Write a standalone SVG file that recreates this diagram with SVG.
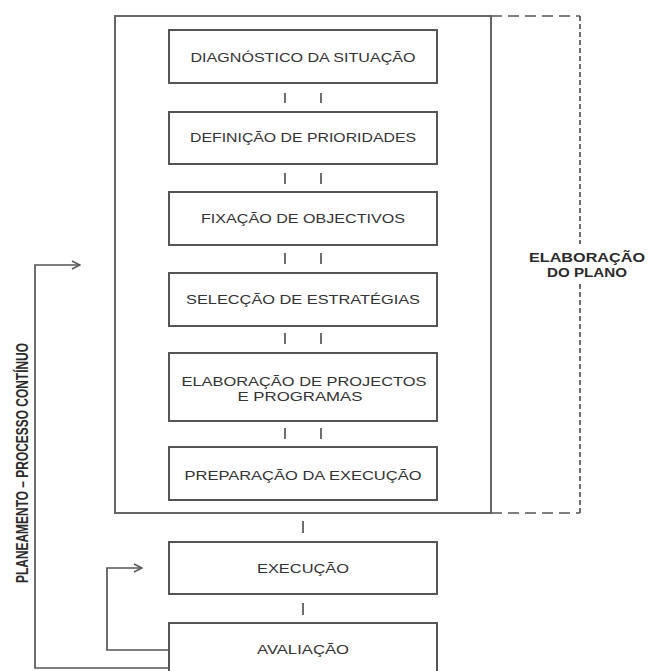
<svg xmlns="http://www.w3.org/2000/svg" width="648" height="671" viewBox="0 0 648 671">
<defs>
<marker id="arr" viewBox="0 0 10 10" refX="9" refY="5" markerWidth="10" markerHeight="10" markerUnits="userSpaceOnUse" orient="auto">
<path d="M1,1 L9,5 L1,9" fill="none" stroke="#555" stroke-width="1.4"/>
</marker>
<style>
.box{fill:#fff;stroke:#555;stroke-width:2}
.lbl{font-family:"Liberation Sans",Arial,sans-serif;font-size:13px;fill:#333;text-anchor:middle}
.bold{font-family:"Liberation Sans",Arial,sans-serif;font-weight:bold;font-size:13px;fill:#2a2a2a;text-anchor:middle}
.tick{stroke:#555;stroke-width:1.7;fill:none}
.conn{stroke:#555;stroke-width:1.7;fill:none}
.dash{stroke:#555;stroke-width:1.7;fill:none}
</style>
</defs>
<rect width="648" height="671" fill="#fff"/>

<g id="plan-frame">
<rect x="115" y="16" width="376" height="497" fill="none" stroke="#666" stroke-width="2"/>
</g>

<g id="elaboracao-plano">
<path class="dash" d="M491,16 H580" stroke-dasharray="11 6"/>
<path class="dash" d="M491,513 H580" stroke-dasharray="11 6"/>
<path class="dash" d="M580,16 V244" stroke-dasharray="5 3"/>
<path class="dash" d="M580,284 V513" stroke-dasharray="5 3"/>
<text class="bold" x="587" y="262" textLength="116" lengthAdjust="spacingAndGlyphs">ELABORAÇÃO</text>
<text class="bold" x="587" y="277" textLength="80" lengthAdjust="spacingAndGlyphs">DO PLANO</text>
</g>

<g id="diagnostico">
<rect class="box" x="169" y="30" width="268" height="53"/>
<text class="lbl" x="303" y="62" textLength="225" lengthAdjust="spacingAndGlyphs">DIAGNÓSTICO DA SITUAÇÃO</text>
</g>
<g id="prioridades">
<rect class="box" x="169" y="112" width="268" height="52"/>
<text class="lbl" x="303" y="142" textLength="226" lengthAdjust="spacingAndGlyphs">DEFINIÇÃO DE PRIORIDADES</text>
</g>
<g id="objectivos">
<rect class="box" x="169" y="192" width="268" height="53"/>
<text class="lbl" x="303" y="223" textLength="204" lengthAdjust="spacingAndGlyphs">FIXAÇÃO DE OBJECTIVOS</text>
</g>
<g id="estrategias">
<rect class="box" x="169" y="273" width="268" height="53"/>
<text class="lbl" x="303" y="304" textLength="234" lengthAdjust="spacingAndGlyphs">SELECÇÃO DE ESTRATÉGIAS</text>
</g>
<g id="projectos">
<rect class="box" x="169" y="353" width="268" height="68"/>
<text class="lbl" x="304" y="386" textLength="245" lengthAdjust="spacingAndGlyphs">ELABORAÇÃO DE PROJECTOS</text>
<text class="lbl" x="300" y="401" textLength="125" lengthAdjust="spacingAndGlyphs">E PROGRAMAS</text>
</g>
<g id="preparacao">
<rect class="box" x="169" y="447" width="268" height="53"/>
<text class="lbl" x="303" y="480" textLength="237" lengthAdjust="spacingAndGlyphs">PREPARAÇÃO DA EXECUÇÃO</text>
</g>
<g id="execucao">
<rect class="box" x="169" y="542" width="268" height="52"/>
<text class="lbl" x="303" y="573" textLength="92" lengthAdjust="spacingAndGlyphs">EXECUÇÃO</text>
</g>
<g id="avaliacao">
<rect class="box" x="169" y="623" width="268" height="52"/>
<text class="lbl" x="303" y="654" textLength="92" lengthAdjust="spacingAndGlyphs">AVALIAÇÃO</text>
</g>

<g id="connectors">
<path class="tick" d="M285,93 V103 M321,93 V103"/>
<path class="tick" d="M285,173 V184 M321,173 V184"/>
<path class="tick" d="M285,253 V264 M321,253 V264"/>
<path class="tick" d="M285,333 V344 M321,333 V344"/>
<path class="tick" d="M285,428 V439 M321,428 V439"/>
<path class="tick" d="M303,521 V533"/>
<path class="tick" d="M303,603 V615"/>
<path class="conn" d="M169,650 H107 V568 H142" marker-end="url(#arr)"/>
<path class="conn" d="M169,668 H35 V265 H80" marker-end="url(#arr)"/>
</g>

<g id="planeamento-label">
<text class="bold" x="0" y="0" style="font-size:16.5px" transform="translate(28,463) rotate(-90)" textLength="240" lengthAdjust="spacingAndGlyphs">PLANEAMENTO – PROCESSO CONTÍNUO</text>
</g>
</svg>
